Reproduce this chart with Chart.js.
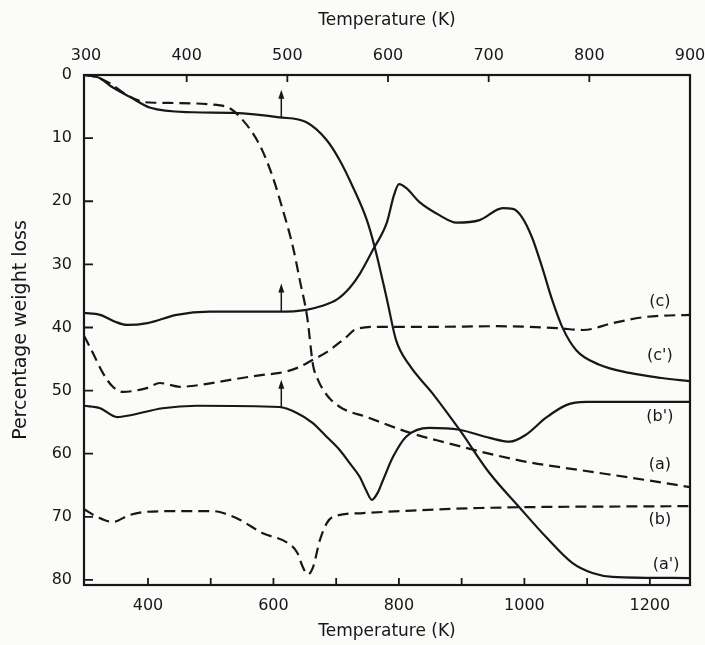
<!DOCTYPE html>
<html>
<head>
<meta charset="utf-8">
<script src="https://cdn.jsdelivr.net/npm/chart.js@4.4.1/dist/chart.umd.min.js"></script>
<style>
  html, body { margin: 0; padding: 0; background: #fbfbfa; }
  #wrap { width: 705px; height: 645px; position: relative; }
</style>
</head>
<body>
<div id="wrap"><canvas id="tg"></canvas></div>
<script>
// dashed curves (a), (b), (c) are read on the lower temperature scale,
// solid curves (a'), (b'), (c') on the upper one
const tempA = [298, 316, 339, 367, 395, 414, 515, 534, 547, 567, 582, 599, 615, 631, 642, 654, 663, 671, 685, 706, 749, 818, 877, 940, 1004, 1089, 1196, 1264];
const lossA = [0, 0.3, 1.3, 3.2, 4.3, 4.4, 4.8, 5.5, 6.7, 9.2, 11.9, 16.2, 21.4, 27.2, 32.5, 38.5, 45.9, 48.3, 50.7, 52.6, 54.2, 56.7, 58.3, 59.9, 61.3, 62.6, 64.2, 65.3];

const tempB = [298, 319, 344, 371, 398, 451, 504, 520, 547, 583, 622, 638, 647, 655, 663, 674, 685, 695, 743, 802, 929, 1264];
const lossB = [68.8, 70.0, 70.8, 69.7, 69.2, 69.1, 69.1, 69.4, 70.5, 72.6, 74.1, 75.7, 78.0, 79.1, 78.0, 73.7, 71.0, 70.0, 69.4, 69.1, 68.6, 68.3];

const tempC = [298, 312, 328, 344, 360, 398, 419, 451, 483, 531, 583, 610, 638, 663, 685, 714, 733, 770, 850, 956, 1052, 1094, 1141, 1196, 1264];
const lossC = [41.3, 44.0, 47.2, 49.4, 50.2, 49.6, 48.8, 49.4, 49.1, 48.3, 47.5, 47.2, 46.4, 45.1, 43.9, 41.7, 40.2, 39.9, 39.9, 39.8, 40.1, 40.4, 39.3, 38.3, 38.0];

const tempA2 = [298, 314, 324, 344, 364, 406, 446, 492, 519, 539, 552, 565, 579, 587, 599, 608, 621, 644, 671, 701, 730, 757, 783, 803, 823, 899];
const lossA2 = [0, 0.5, 1.7, 3.5, 5.2, 5.9, 6.0, 6.7, 7.5, 10.3, 13.5, 17.7, 23.0, 27.4, 35.6, 42.0, 45.9, 50.4, 56.2, 63.1, 68.4, 73.2, 77.3, 78.9, 79.5, 79.7];

const tempB2 = [298, 314, 331, 344, 376, 410, 492, 509, 525, 539, 552, 562, 572, 578, 584, 590, 595, 605, 618, 641, 671, 701, 721, 737, 757, 777, 797, 899];
const lossB2 = [52.4, 52.8, 54.2, 53.9, 52.8, 52.4, 52.6, 53.5, 55.1, 57.3, 59.4, 61.5, 63.7, 65.7, 67.3, 66.1, 64.2, 60.5, 57.3, 55.9, 56.2, 57.5, 58.1, 57.0, 54.3, 52.3, 51.8, 51.8];

const tempC2 = [298, 314, 329, 341, 361, 390, 423, 492, 519, 534, 549, 562, 572, 585, 599, 606, 611, 618, 631, 651, 668, 691, 714, 724, 733, 743, 753, 763, 773, 787, 810, 840, 872, 899];
const lossC2 = [37.7, 38.0, 39.1, 39.6, 39.3, 38.0, 37.5, 37.5, 37.2, 36.6, 35.6, 33.7, 31.5, 27.7, 23.3, 19.0, 17.3, 17.9, 20.1, 22.2, 23.4, 23.0, 21.1, 21.2, 22.5, 25.7, 30.4, 35.6, 39.9, 43.6, 45.9, 47.2, 48.0, 48.5];

const lowerTicks = [400, 500, 600, 700, 800, 900, 1000, 1100, 1200];
const upperTicks = [300, 400, 500, 600, 700, 800, 900];
const lossTicks = [0, 10, 20, 30, 40, 50, 60, 70, 80];

// upward arrows on the solid curves, upper scale
const arrowTemp = 494;

const ink = '#171717';
const fontFamily = '"DejaVu Sans", sans-serif';

function pts(t, v) {
  return t.map((x, i) => ({ x: x, y: v[i] }));
}

function valueAt(t, v, x) {
  for (let i = 1; i < t.length; i++) {
    if (x <= t[i]) {
      const f = (x - t[i - 1]) / (t[i] - t[i - 1]);
      return v[i - 1] + f * (v[i] - v[i - 1]);
    }
  }
  return v[v.length - 1];
}

function curve(label, t, v, axis, dashed) {
  return {
    label: label,
    data: pts(t, v),
    xAxisID: axis,
    borderColor: ink,
    borderWidth: 2.2,
    borderDash: dashed ? [11, 6] : [],
    pointRadius: 0,
    fill: false,
    cubicInterpolationMode: 'monotone'
  };
}

const decor = {
  id: 'decor',
  afterDatasetsDraw(chart, args, opts) {
    const { ctx, chartArea: a, scales } = chart;
    ctx.save();
    ctx.strokeStyle = ink;
    ctx.fillStyle = ink;

    // frame
    ctx.lineWidth = 2.2;
    ctx.strokeRect(a.left, a.top, a.right - a.left, a.bottom - a.top);

    // inward tick marks
    ctx.lineWidth = 1.8;
    ctx.beginPath();
    lossTicks.forEach(v => {
      const y = scales.y.getPixelForValue(v);
      ctx.moveTo(a.left, y);
      ctx.lineTo(a.left + 9, y);
    });
    lowerTicks.forEach(v => {
      const x = scales.x.getPixelForValue(v);
      ctx.moveTo(x, a.bottom);
      ctx.lineTo(x, a.bottom - 7);
    });
    upperTicks.slice(1, -1).forEach(v => {
      const x = scales.x2.getPixelForValue(v);
      ctx.moveTo(x, a.top);
      ctx.lineTo(x, a.top + 7);
    });
    ctx.stroke();

    // arrows
    ctx.lineWidth = 1.5;
    [[tempA2, lossA2], [tempC2, lossC2], [tempB2, lossB2]].forEach(([t, v]) => {
      const x = scales.x2.getPixelForValue(arrowTemp);
      const y = scales.y.getPixelForValue(valueAt(t, v, arrowTemp));
      ctx.beginPath();
      ctx.moveTo(x, y);
      ctx.lineTo(x, y - 22);
      ctx.stroke();
      ctx.beginPath();
      ctx.moveTo(x, y - 28);
      ctx.lineTo(x - 3, y - 19);
      ctx.lineTo(x + 3, y - 19);
      ctx.closePath();
      ctx.fill();
    });

    // curve labels
    ctx.font = '16px ' + fontFamily;
    ctx.textAlign = 'center';
    ctx.textBaseline = 'middle';
    opts.labels.forEach(l => {
      ctx.fillText(l.text, scales.x.getPixelForValue(l.t), scales.y.getPixelForValue(l.v));
    });
    ctx.restore();
  }
};

const tickFont = { family: fontFamily, size: 16 };
const titleFont = { family: fontFamily, size: 17 };

new Chart(document.getElementById('tg'), {
  type: 'line',
  data: {
    datasets: [
      curve('(a)', tempA, lossA, 'x', true),
      curve('(b)', tempB, lossB, 'x', true),
      curve('(c)', tempC, lossC, 'x', true),
      curve("(a')", tempA2, lossA2, 'x2', false),
      curve("(b')", tempB2, lossB2, 'x2', false),
      curve("(c')", tempC2, lossC2, 'x2', false)
    ]
  },
  options: {
    responsive: true,
    maintainAspectRatio: false,
    animation: false,
    layout: { padding: { left: 0, right: 15, top: 0, bottom: 0 } },
    plugins: {
      legend: { display: false },
      tooltip: { enabled: false },
      decor: {
        labels: [
          { text: '(c)', t: 1216, v: 36.0 },
          { text: "(c')", t: 1216, v: 44.5 },
          { text: "(b')", t: 1216, v: 54.2 },
          { text: '(a)', t: 1216, v: 61.8 },
          { text: '(b)', t: 1216, v: 70.5 },
          { text: "(a')", t: 1226, v: 77.6 }
        ]
      }
    },
    scales: {
      x: {
        type: 'linear',
        position: 'bottom',
        min: 298,
        max: 1264,
        grid: { display: false, drawTicks: false },
        border: { display: false },
        afterBuildTicks: s => { s.ticks = lowerTicks.map(v => ({ value: v })); },
        afterFit: s => { s.height = 60; s.paddingLeft = 0; s.paddingRight = 0; },
        ticks: {
          autoSkip: false,
          maxRotation: 0,
          padding: 11,
          color: ink,
          font: tickFont,
          callback: v => (v % 200 === 0 ? String(v) : '')
        },
        title: { display: true, text: 'Temperature (K)', color: ink, font: titleFont, padding: { top: 0, bottom: 3 } }
      },
      x2: {
        type: 'linear',
        position: 'top',
        min: 298,
        max: 900,
        grid: { display: false, drawTicks: false },
        border: { display: false },
        afterBuildTicks: s => { s.ticks = upperTicks.map(v => ({ value: v })); },
        afterFit: s => { s.height = 75; s.paddingLeft = 0; s.paddingRight = 0; },
        ticks: {
          autoSkip: false,
          maxRotation: 0,
          padding: 10,
          color: ink,
          font: tickFont
        },
        title: { display: true, text: 'Temperature (K)', color: ink, font: titleFont, padding: { top: 10, bottom: 0 } }
      },
      y: {
        reverse: true,
        min: 0,
        max: 80.8,
        grid: { display: false, drawTicks: false },
        border: { display: false },
        afterBuildTicks: s => { s.ticks = lossTicks.map(v => ({ value: v })); },
        afterFit: s => { s.width = 84; s.paddingTop = 0; s.paddingBottom = 0; },
        ticks: { padding: 12, color: ink, font: tickFont },
        title: { display: true, text: 'Percentage weight loss', color: ink, font: { family: fontFamily, size: 19 }, padding: { top: 10, bottom: 0 } }
      }
    }
  },
  plugins: [decor]
});
</script>
</body>
</html>
